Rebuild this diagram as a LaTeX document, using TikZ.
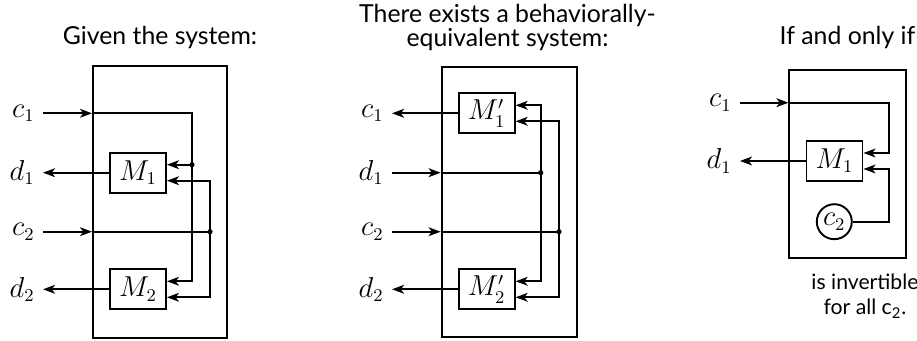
\documentclass[tikz,border=0pt]{standalone}
\usepackage{fontspec}
\setsansfont{Lato}
\usetikzlibrary{arrows.meta, calc, positioning}

\begin{document}
\begin{tikzpicture}[
    x=0.5pt, y=-0.5pt,
    font=\fontsize{13.5}{15}\selectfont,
    wire/.style={line width=0.95pt},
    sig/.style={wire, -{Stealth[length=6pt, width=4.4pt, inset=1.6pt]}},
    sysbox/.style={draw, line width=0.95pt, inner sep=0pt},
    mbox/.style={draw, line width=0.95pt, minimum width=28pt, minimum height=20pt, inner sep=0pt},
    lbl/.style={inner xsep=4pt, inner ysep=1pt, anchor=east},
    title/.style={font=\sffamily\fontsize{12.4}{11}\selectfont, align=center, inner sep=0pt},
    note/.style={font=\sffamily\fontsize{10.6}{12.5}\selectfont, align=center, inner sep=0pt}
]
\useasboundingbox (0,0) rectangle (917,341);
%
% given system
\node[title, anchor=base] (tA) at (160,45) {Given the system:};
\node[sysbox, minimum width=67pt, minimum height=136pt] (sysA) at (160,202) {};
\node[mbox] (mA1) at (138,172.7) {$M_1$};
\node[mbox] (mA2) at (138,289.3) {$M_2$};
\node[lbl] (cA1) at (43,113.3) {$c_1$};
\node[lbl] (dA1) at (43,172.7) {$d_1$};
\node[lbl] (cA2) at (43,231.7) {$c_2$};
\node[lbl] (dA2) at (43,289.3) {$d_2$};
\coordinate (jA1) at (192,164.7);
\coordinate (jA2) at (210,231.7);
\draw[sig] (cA1) -- (cA1 -| sysA.west);
\draw[sig] (cA1 -| sysA.west) -| (jA1) |- ([yshift=4pt]mA2.east);
\draw[sig] (jA1) -- ([yshift=4pt]mA1.east);
\draw[sig] (cA2) -- (cA2 -| sysA.west);
\draw[wire] (cA2 -| sysA.west) -- (jA2);
\draw[sig] (jA2) |- ([yshift=-4pt]mA1.east);
\draw[sig] (jA2) |- ([yshift=-4pt]mA2.east);
\draw[sig] (mA1) -- (dA1);
\draw[sig] (mA2) -- (dA2);
\fill (jA1) circle (1.3pt);
\fill (jA2) circle (1.3pt);

%
% equivalent system
\node[title, anchor=base] (tB) at (507.5,47) {There exists a behaviorally-\\equivalent system:};
\node[sysbox, minimum width=67.7pt, minimum height=135pt] (sysB) at (509.3,201.7) {};
\node[mbox] (mB1) at (486.7,113.3) {$M'_1$};
\node[mbox] (mB2) at (486.7,289.3) {$M'_2$};
\node[lbl] (cB1) at (392,113.3) {$c_1$};
\node[lbl] (dB1) at (392,172.7) {$d_1$};
\node[lbl] (cB2) at (392,231.7) {$c_2$};
\node[lbl] (dB2) at (392,289.3) {$d_2$};
\coordinate (jB1) at (540.7,172.7);
\coordinate (jB2) at (559,231.7);
\draw[sig] (mB1) -- (cB1);
\draw[sig] (mB2) -- (dB2);
\draw[sig] (dB1) -- (dB1 -| sysB.west);
\draw[wire] (dB1 -| sysB.west) -- (jB1);
\draw[sig] (cB2) -- (cB2 -| sysB.west);
\draw[wire] (cB2 -| sysB.west) -- (jB2);
\draw[sig] (jB1) |- ([yshift=4pt]mB1.east);
\draw[sig] (jB1) |- ([yshift=4pt]mB2.east);
\draw[sig] (jB2) |- ([yshift=-4pt]mB1.east);
\draw[sig] (jB2) |- ([yshift=-4pt]mB2.east);
\fill (jB1) circle (1.3pt);
\fill (jB2) circle (1.3pt);

%
% invertibility condition
\node[title, anchor=base] (tC) at (847.5,45) {If and only if};
\node[sysbox, minimum width=58.3pt, minimum height=94.2pt] (sysC) at (847.7,164.2) {};
\node[mbox] (mC) at (834.5,161) {$M_1$};
\node[draw, circle, line width=0.95pt, minimum size=17.5pt, inner sep=0pt] (cC) at (834.3,221.7) {$c_2$};
\node[lbl] (cC1) at (740,102.7) {$c_1$};
\node[lbl] (dC1) at (740,161) {$d_1$};
\coordinate (rC) at (889,0);
\draw[sig] (cC1) -- (cC1 -| sysC.west);
\draw[sig] (cC1 -| sysC.west) -| ([yshift=4pt]mC.east -| rC) -- ([yshift=4pt]mC.east);
\draw[sig] (cC) -| ([yshift=-4pt]mC.east -| rC) -- ([yshift=-4pt]mC.east);
\draw[sig] (mC) -- (dC1);
\node[note, anchor=base] (nC) at (865,315) {is invertible\\for all c\textsubscript{2}.};
\end{tikzpicture}
\end{document}
